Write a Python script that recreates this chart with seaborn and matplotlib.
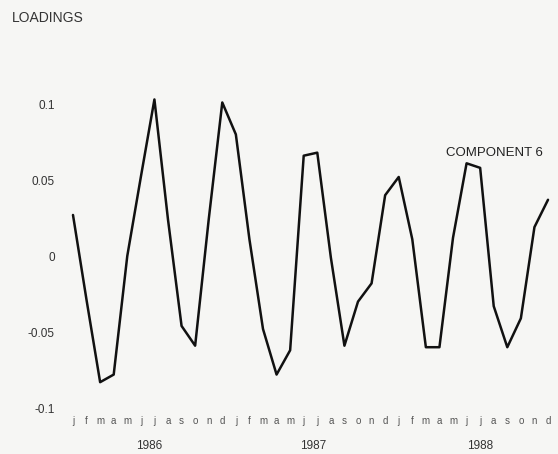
import numpy as np
import pandas as pd
import matplotlib
matplotlib.use("Agg")
import matplotlib.pyplot as plt
import matplotlib.transforms as mtransforms
import seaborn as sns

# 数据：三年的月度载荷（component 6）
months = list("jfmamjjasond") * 3
years = ["1986", "1987", "1988"]
loadings = [0.027, -0.029, -0.083, -0.078, 0.000, 0.052, 0.103, 0.024, -0.046, -0.059, 0.024, 0.101,
            0.080, 0.011, -0.048, -0.078, -0.062, 0.066, 0.068, -0.001, -0.059, -0.030, -0.018, 0.040,
            0.052, 0.011, -0.060, -0.060, 0.012, 0.061, 0.058, -0.033, -0.060, -0.041, 0.019, 0.037]
yticks = [-0.1, -0.05, 0, 0.05, 0.1]
ytick_labels = ["-0.1", "-0.05", "0", "0.05", "0.1"]

df = pd.DataFrame({"t": np.arange(len(loadings)), "loading": loadings})

sns.set_style("white")
plt.rcParams['font.family'] = ['Liberation Sans', 'DejaVu Sans']

fig = plt.figure(figsize=(5.58, 4.54), dpi=100, facecolor="#f6f6f4")
ax = fig.add_axes([0.1308, 0.1013, 0.8513, 0.6696])
ax.set_facecolor("#f6f6f4")

sns.lineplot(data=df, x="t", y="loading", color="#111111", linewidth=1.8, ax=ax)
for l in ax.lines:
    l.set_clip_on(False)

ax.set_xlim(0, 35)
ax.set_ylim(-0.1, 0.1)
for s in ax.spines.values():
    s.set_visible(False)

ax.set_yticks(yticks)
ax.set_yticklabels(ytick_labels)
ax.set_xticks(df["t"])
ax.set_xticklabels(months)
ax.tick_params(axis="y", length=0, pad=13, labelsize=8.5, labelcolor="#333333")
ax.tick_params(axis="x", length=0, pad=6, labelsize=7, labelcolor="#555555")
ax.set_xlabel("")
ax.set_ylabel("")

# 年份标签（放在每年月份下方）
year_pos = [5.6, 17.7, 30.0]
trans = mtransforms.blended_transform_factory(ax.transData, fig.transFigure)
for xp, yr in zip(year_pos, years):
    ax.text(xp, 0.018, yr, transform=trans, ha="center", va="center",
            fontsize=8.5, color="#333333")

fig.text(0.022, 0.96, "LOADINGS", ha="left", va="center", fontsize=10, color="#333333")
ax.text(27.5, 0.064, "COMPONENT 6", ha="left", va="bottom", fontsize=9.5, color="#222222")

fig.savefig("out.png", dpi=100, facecolor=fig.get_facecolor())
